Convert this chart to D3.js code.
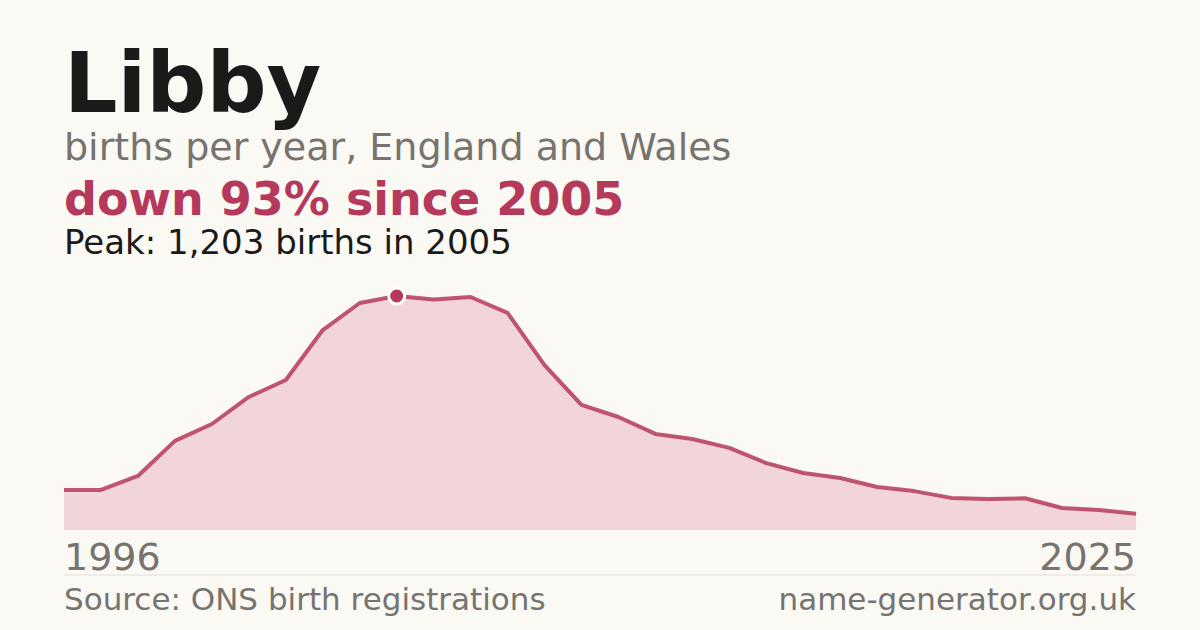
<!DOCTYPE html>
<html>
<head>
<meta charset="utf-8">
<script src="https://cdn.jsdelivr.net/npm/d3@7"></script>
<style>
  body { margin: 0; background: #faf9f4; }
  svg { display: block; font-family: "DejaVu Sans", sans-serif; }
</style>
</head>
<body>
<svg id="chart" width="1200" height="630"></svg>
<script>
// births per year, 1996 to 2025
var years = d3.range(1996, 2026);
var births = [206, 206, 278, 458, 545, 684, 771, 1028, 1167, 1203,
              1185, 1198, 1116, 848, 643, 581, 494, 468, 422, 344,
              293, 267, 221, 200, 165, 159, 163, 113, 103, 84];
var peakYear = 2005;

var svg = d3.select('#chart');
var accent = '#b5395a';

// header texts
svg.append('text').attr('x', 64).attr('y', 112)
  .attr('font-size', 84).attr('font-weight', 'bold').attr('fill', '#1a1a1a').text('Libby');
svg.append('text').attr('x', 64).attr('y', 160)
  .attr('font-size', 38).attr('fill', '#77736e').text('births per year, England and Wales');
svg.append('text').attr('x', 64).attr('y', 215)
  .attr('font-size', 46).attr('font-weight', 'bold').attr('fill', accent).text('down 93% since 2005');
svg.append('text').attr('x', 64).attr('y', 254)
  .attr('font-size', 34).attr('fill', '#1a1a1a').text('Peak: 1,203 births in 2005');

// scales
var x = d3.scaleLinear().domain([1996, 2025]).range([64, 1136]);
var y = d3.scaleLinear().domain([0, 1203]).range([530, 296]);

var area = d3.area()
  .x(function(d, i) { return x(years[i]); })
  .y0(530)
  .y1(function(d) { return y(d); });
var line = d3.line()
  .x(function(d, i) { return x(years[i]); })
  .y(function(d) { return y(d); });

svg.append('path').datum(births).attr('d', area).attr('fill', '#f1d5da');
svg.append('path').datum(births).attr('d', line)
  .attr('fill', 'none').attr('stroke', accent).attr('stroke-width', 4)
  .attr('stroke-opacity', 0.85).attr('stroke-linejoin', 'round');

// peak marker
var pi = years.indexOf(peakYear);
svg.append('circle').attr('cx', x(peakYear)).attr('cy', y(births[pi]))
  .attr('r', 8).attr('fill', accent).attr('stroke', '#fff').attr('stroke-width', 3);

// axis labels
svg.append('text').attr('x', 64).attr('y', 570)
  .attr('font-size', 38).attr('fill', '#77736e').text(years[0]);
svg.append('text').attr('x', 1136).attr('y', 570).attr('text-anchor', 'end')
  .attr('font-size', 38).attr('fill', '#77736e').text(years[years.length - 1]);

// footer
svg.append('line').attr('x1', 64).attr('x2', 1136).attr('y1', 575).attr('y2', 575)
  .attr('stroke', '#e2e0da').attr('stroke-width', 1);
svg.append('text').attr('x', 64).attr('y', 610)
  .attr('font-size', 31).attr('fill', '#77736e').text('Source: ONS birth registrations');
svg.append('text').attr('x', 1136).attr('y', 610).attr('text-anchor', 'end')
  .attr('font-size', 31).attr('fill', '#77736e').text('name-generator.org.uk');
</script>
</body>
</html>
